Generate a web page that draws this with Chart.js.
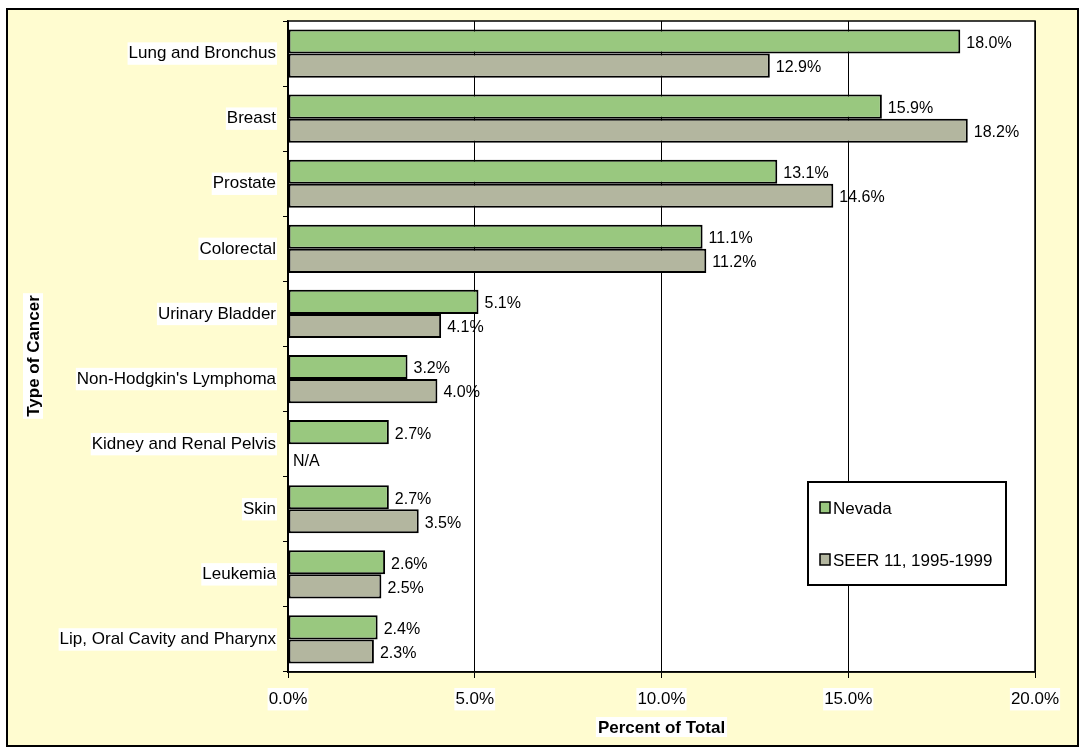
<!DOCTYPE html>
<html>
<head>
<meta charset="utf-8">
<script src="https://cdn.jsdelivr.net/npm/chart.js@4"></script>
<style>
  body { margin: 0; background: #fff; }
  #wrap { width: 1080px; height: 747px; }
</style>
</head>
<body>
<div id="wrap"><canvas id="cancerChart"></canvas></div>
<script>
const categories = ["Lung and Bronchus", "Breast", "Prostate", "Colorectal", "Urinary Bladder",
    "Non-Hodgkin's Lymphoma", "Kidney and Renal Pelvis", "Skin", "Leukemia", "Lip, Oral Cavity and Pharynx"];
const nevada = [18.0, 15.9, 13.1, 11.1, 5.1, 3.2, 2.7, 2.7, 2.6, 2.4];
const seer = [12.9, 18.2, 14.6, 11.2, 4.1, 4.0, null, 3.5, 2.5, 2.3];
const xTicks = [0, 5, 10, 15, 20];
const xTitle = 'Percent of Total';
const yTitle = 'Type of Cancer';

const FONT = "'Liberation Sans', Arial, sans-serif";

// draws text with a white box behind it
function boxedText(ctx, text, x, y) {
    const w = ctx.measureText(text).width;
    ctx.fillStyle = '#fff';
    ctx.fillRect(x - w / 2 - 2, y - 10, w + 4, 20);
    ctx.fillStyle = '#000';
    ctx.fillText(text, x, y + 1);
}

// background, frame, plot area, titles, value labels, legend box
const decor = {
    id: 'decor',
    beforeDraw(chart) {
        const ctx = chart.ctx, a = chart.chartArea;
        ctx.save();
        ctx.fillStyle = '#fff';
        ctx.fillRect(0, 0, chart.width, chart.height);
        ctx.fillStyle = '#FFFCD0';
        ctx.fillRect(7, 9, chart.width - 9, chart.height - 10);
        ctx.strokeStyle = '#000';
        ctx.lineWidth = 2;
        ctx.strokeRect(7, 9, chart.width - 9, chart.height - 10);
        ctx.fillStyle = '#fff';
        ctx.fillRect(a.left, a.top, a.right - a.left, a.bottom - a.top);

        // axis titles
        ctx.font = 'bold 17px ' + FONT;
        ctx.textAlign = 'center';
        ctx.textBaseline = 'middle';
        boxedText(ctx, xTitle, (a.left + a.right) / 2, 727);
        ctx.translate(33, 356);
        ctx.rotate(-Math.PI / 2);
        boxedText(ctx, yTitle, 0, 0);
        ctx.restore();
    },
    afterDatasetsDraw(chart) {
        const ctx = chart.ctx, a = chart.chartArea;
        ctx.save();
        ctx.strokeStyle = '#000';
        ctx.lineWidth = 1.5;
        ctx.strokeRect(a.left, a.top, a.right - a.left, a.bottom - a.top);

        ctx.font = '16px ' + FONT;
        ctx.fillStyle = '#000';
        ctx.textBaseline = 'middle';
        ctx.textAlign = 'left';
        const m0 = chart.getDatasetMeta(0);
        chart.data.datasets.forEach((ds, di) => {
            const meta = chart.getDatasetMeta(di);
            ds.data.forEach((v, i) => {
                if (v === null) {
                    const g = m0.data[i];
                    ctx.fillText('N/A', a.left + 5, g.y + g.height + 5);
                    return;
                }
                const el = meta.data[i];
                ctx.fillText(v.toFixed(1) + '%', el.x + 6, el.y + 2);
            });
        });

        // legend box
        const lx = 808, ly = 482, lw = 198, lh = 103;
        ctx.fillStyle = '#fff';
        ctx.fillRect(lx, ly, lw, lh);
        ctx.lineWidth = 2;
        ctx.strokeRect(lx, ly, lw, lh);
        ctx.font = '17px ' + FONT;
        chart.data.datasets.forEach((ds, di) => {
            const y = ly + 26 + di * 52;
            ctx.fillStyle = ds.backgroundColor;
            ctx.fillRect(lx + 12, y - 6, 10, 11);
            ctx.lineWidth = 1.5;
            ctx.strokeRect(lx + 12, y - 6, 10, 11);
            ctx.fillStyle = '#000';
            ctx.fillText(ds.label, lx + 25, y + 1);
        });
        ctx.restore();
    }
};

new Chart(document.getElementById('cancerChart'), {
    type: 'bar',
    data: {
        labels: categories,
        datasets: [{
            label: 'Nevada',
            data: nevada,
            backgroundColor: '#99C87F',
            borderColor: '#000',
            borderWidth: 2,
            borderSkipped: false,
            categoryPercentage: 0.74,
            barPercentage: 1
        }, {
            label: 'SEER 11, 1995-1999',
            data: seer,
            backgroundColor: '#B3B69F',
            borderColor: '#000',
            borderWidth: 2,
            borderSkipped: false,
            categoryPercentage: 0.74,
            barPercentage: 1
        }]
    },
    options: {
        indexAxis: 'y',
        responsive: true,
        maintainAspectRatio: false,
        animation: false,
        layout: { padding: { left: 6, top: 21, right: 45, bottom: 0 } },
        plugins: {
            legend: { display: false },
            tooltip: { enabled: false }
        },
        scales: {
            x: {
                min: 0,
                max: 20,
                afterBuildTicks: s => { s.ticks = xTicks.map(v => ({ value: v })); },
                afterFit: s => { s.height = 75; },
                grid: { color: '#000', lineWidth: 1, tickLength: 6 },
                border: { color: '#000', width: 1.5 },
                ticks: {
                    color: '#000',
                    font: { family: FONT, size: 17 },
                    padding: 11,
                    maxRotation: 0,
                    callback: v => v.toFixed(1) + '%',
                    showLabelBackdrop: true,
                    backdropColor: '#fff',
                    backdropPadding: 1
                }
            },
            y: {
                afterFit: s => { s.width = 282; },
                grid: { offset: true, drawOnChartArea: false, color: '#000', tickLength: 5 },
                border: { color: '#000', width: 1.5 },
                ticks: {
                    color: '#000',
                    font: { family: FONT, size: 17 },
                    padding: 7,
                    showLabelBackdrop: true,
                    backdropColor: '#fff',
                    backdropPadding: 1
                }
            }
        }
    },
    plugins: [decor]
});
</script>
</body>
</html>
